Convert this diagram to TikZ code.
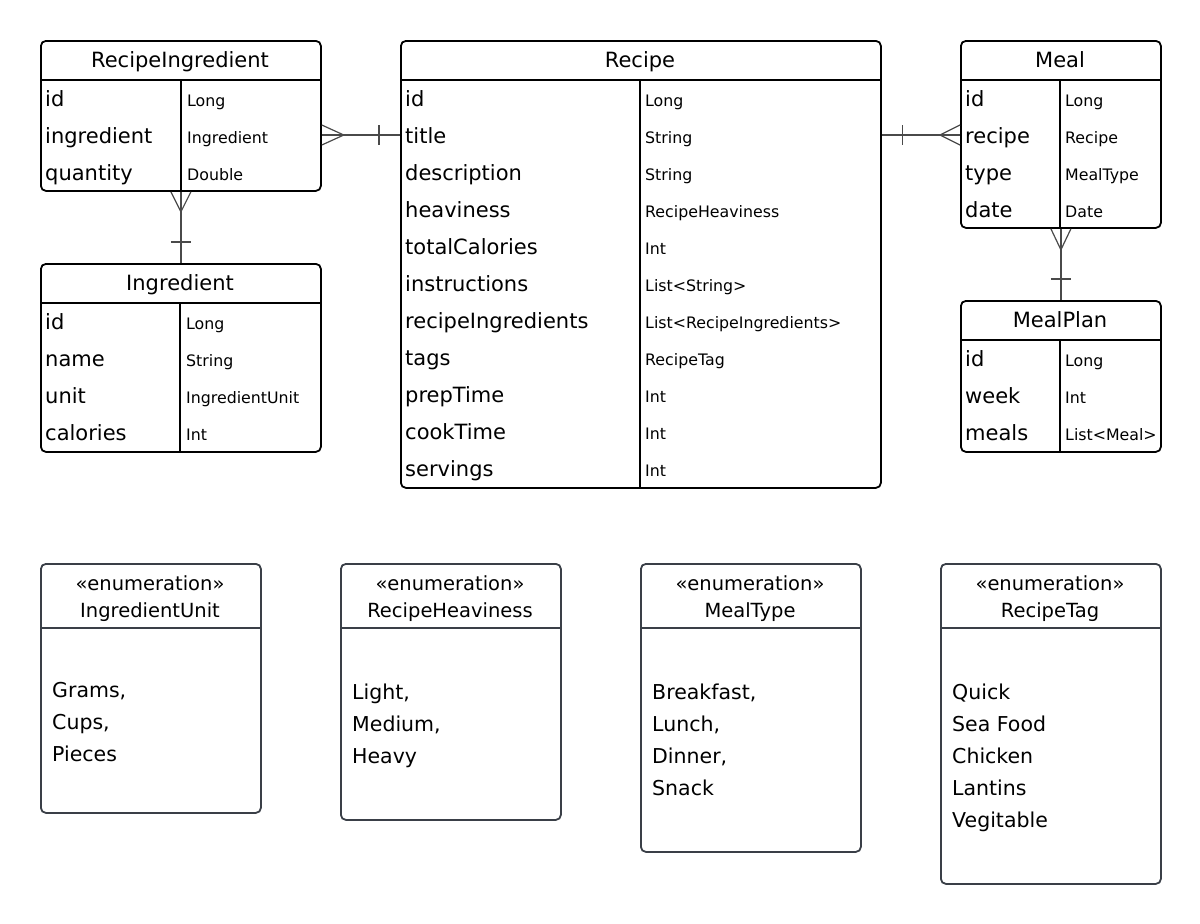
\documentclass[tikz,border=0pt]{standalone}
\usepackage{fontspec}
\setmainfont{DejaVu Sans}
\definecolor{enumc}{HTML}{3A3F47}
\definecolor{connc}{HTML}{4A4A4A}
\begin{document}
\begin{tikzpicture}[x=1pt,y=-1pt]
\tikzset{
 tbl/.style={draw=black,line width=1.8pt,rounded corners=5pt,anchor=north west,inner sep=0pt},
 enumbox/.style={draw=enumc,line width=1.8pt,rounded corners=5pt,anchor=north west,inner sep=0pt},
 sepline/.style={draw=black,line width=1.8pt},
 esep/.style={draw=enumc,line width=1.5pt},
 ttl/.style={font=\fontsize{21}{25}\selectfont,anchor=base,inner sep=0pt},
 fld/.style={font=\fontsize{21}{25}\selectfont,anchor=base west,inner sep=0pt},
 typ/.style={font=\fontsize{15.8}{19}\selectfont,anchor=base west,inner sep=0pt},
 etxt/.style={font=\fontsize{19.5}{24}\selectfont,anchor=base,inner sep=0pt},
 eitem/.style={font=\fontsize{20.5}{24}\selectfont,anchor=base west,inner sep=0pt},
 conn/.style={draw=connc,line width=1.2pt},
}
\useasboundingbox[fill=white] (0,0) rectangle (1200,924);

% ---------- RecipeIngredient
\node[tbl,minimum width=280,minimum height=150] (ri) at (40,40) {};
\draw[sepline] ([yshift=-40]ri.north west) -- ([yshift=-40]ri.north east);
\draw[sepline] ([xshift=141,yshift=-40]ri.north west) -- ([xshift=141]ri.south west);
\node[ttl] (ri-title) at (180,67) {RecipeIngredient};
\foreach \f/\t [count=\i from 0] in {id/Long,ingredient/Ingredient,quantity/Double}{
  \coordinate (ri-r\i) at (40,{98+37*\i});
  \node[fld] (ri-f\i) at (45,{106+37*\i}) {\f};
  \node[typ] (ri-t\i) at (187,{106+37*\i}) {\t};
}

% ---------- Ingredient
\node[tbl,minimum width=280,minimum height=188] (ing) at (40,263) {};
\draw[sepline] ([yshift=-40]ing.north west) -- ([yshift=-40]ing.north east);
\draw[sepline] ([xshift=140,yshift=-40]ing.north west) -- ([xshift=140]ing.south west);
\node[ttl] (ing-title) at (180,290) {Ingredient};
\foreach \f/\t [count=\i from 0] in {id/Long,name/String,unit/IngredientUnit,calories/Int}{
  \node[fld] (ing-f\i) at (45,{329+37*\i}) {\f};
  \node[typ] (ing-t\i) at (186,{329+37*\i}) {\t};
}

% ---------- Recipe
\node[tbl,minimum width=480,minimum height=447] (rec) at (400,40) {};
\draw[sepline] ([yshift=-40]rec.north west) -- ([yshift=-40]rec.north east);
\draw[sepline] ([xshift=240,yshift=-40]rec.north west) -- ([xshift=240]rec.south west);
\node[ttl] (rec-title) at (640,67) {Recipe};
\foreach \f/\t [count=\i from 0] in {id/Long,title/String,description/String,heaviness/RecipeHeaviness,totalCalories/Int,instructions/List<String>,recipeIngredients/List<RecipeIngredients>,tags/RecipeTag,prepTime/Int,cookTime/Int,servings/Int}{
  \coordinate (rec-r\i) at (400,{98+37*\i});
  \node[fld] (rec-f\i) at (405,{106+37*\i}) {\f};
  \node[typ] (rec-t\i) at (645,{106+37*\i}) {\t};
}

% ---------- Meal
\node[tbl,minimum width=200,minimum height=187] (meal) at (960,40) {};
\draw[sepline] ([yshift=-40]meal.north west) -- ([yshift=-40]meal.north east);
\draw[sepline] ([xshift=100,yshift=-40]meal.north west) -- ([xshift=100]meal.south west);
\node[ttl] (meal-title) at (1060,67) {Meal};
\foreach \f/\t [count=\i from 0] in {id/Long,recipe/Recipe,type/MealType,date/Date}{
  \coordinate (meal-r\i) at (960,{98+37*\i});
  \node[fld] (meal-f\i) at (965,{106+37*\i}) {\f};
  \node[typ] (meal-t\i) at (1065,{106+37*\i}) {\t};
}

% ---------- MealPlan
\node[tbl,minimum width=200,minimum height=151] (mp) at (960,300) {};
\draw[sepline] ([yshift=-40]mp.north west) -- ([yshift=-40]mp.north east);
\draw[sepline] ([xshift=100,yshift=-40]mp.north west) -- ([xshift=100]mp.south west);
\node[ttl] (mp-title) at (1060,327) {MealPlan};
\foreach \f/\t [count=\i from 0] in {id/Long,week/Int,meals/List<Meal>}{
  \node[fld] (mp-f\i) at (965,{366+37*\i}) {\f};
  \node[typ] (mp-t\i) at (1065,{366+37*\i}) {\t};
}

% ---------- Connectors
\coordinate (e1a) at (ri.east |- ri-r1);
\coordinate (e1b) at (rec.west |- rec-r1);
\draw[conn] (e1a) -- (e1b);
\draw[conn] ([yshift=10]e1a) -- ([xshift=22]e1a) -- ([yshift=-10]e1a);
\draw[conn] ([xshift=-21,yshift=10]e1b) -- ([xshift=-21,yshift=-10]e1b);

\coordinate (e2a) at (rec.east |- rec-r1);
\coordinate (e2b) at (meal.west |- meal-r1);
\draw[conn] (e2a) -- (e2b);
\draw[conn] ([xshift=21,yshift=10]e2a) -- ([xshift=21,yshift=-10]e2a);
\draw[conn] ([yshift=10]e2b) -- ([xshift=-20]e2b) -- ([yshift=-10]e2b);

\draw[conn] (ri.south) -- (ing.north);
\draw[conn] ([xshift=-10]ri.south) -- ([yshift=-20]ri.south) -- ([xshift=10]ri.south);
\draw[conn] ([xshift=-10,yshift=21]ing.north) -- ([xshift=10,yshift=21]ing.north);

\draw[conn] (meal.south) -- (mp.north);
\draw[conn] ([xshift=-10]meal.south) -- ([yshift=-21]meal.south) -- ([xshift=10]meal.south);
\draw[conn] ([xshift=-10,yshift=21]mp.north) -- ([xshift=10,yshift=21]mp.north);

% ---------- Enumerations
\node[enumbox,minimum width=220,minimum height=249] (eu) at (40,563) {};
\draw[esep] ([yshift=-65]eu.north west) -- ([yshift=-65]eu.north east);
\node[etxt] (eu-s) at (150,590) {«enumeration»};
\node[etxt] (eu-n) at (150,617) {IngredientUnit};
\node[eitem] (eu-i0) at (52,697) {Grams,};
\node[eitem] (eu-i1) at (52,729) {Cups,};
\node[eitem] (eu-i2) at (52,761) {Pieces};

\node[enumbox,minimum width=220,minimum height=256] (eh) at (340,563) {};
\draw[esep] ([yshift=-65]eh.north west) -- ([yshift=-65]eh.north east);
\node[etxt] (eh-s) at (450,590) {«enumeration»};
\node[etxt] (eh-n) at (450,617) {RecipeHeaviness};
\node[eitem] (eh-i0) at (352,699) {Light,};
\node[eitem] (eh-i1) at (352,731) {Medium,};
\node[eitem] (eh-i2) at (352,763) {Heavy};

\node[enumbox,minimum width=220,minimum height=288] (emt) at (640,563) {};
\draw[esep] ([yshift=-65]emt.north west) -- ([yshift=-65]emt.north east);
\node[etxt] (emt-s) at (750,590) {«enumeration»};
\node[etxt] (emt-n) at (750,617) {MealType};
\node[eitem] (emt-i0) at (652,699) {Breakfast,};
\node[eitem] (emt-i1) at (652,731) {Lunch,};
\node[eitem] (emt-i2) at (652,763) {Dinner,};
\node[eitem] (emt-i3) at (652,795) {Snack};

\node[enumbox,minimum width=220,minimum height=320] (et) at (940,563) {};
\draw[esep] ([yshift=-65]et.north west) -- ([yshift=-65]et.north east);
\node[etxt] (et-s) at (1050,590) {«enumeration»};
\node[etxt] (et-n) at (1050,617) {RecipeTag};
\node[eitem] (et-i0) at (952,699) {Quick};
\node[eitem] (et-i1) at (952,731) {Sea Food};
\node[eitem] (et-i2) at (952,763) {Chicken};
\node[eitem] (et-i3) at (952,795) {Lantins};
\node[eitem] (et-i4) at (952,827) {Vegitable};
\end{tikzpicture}
\end{document}
